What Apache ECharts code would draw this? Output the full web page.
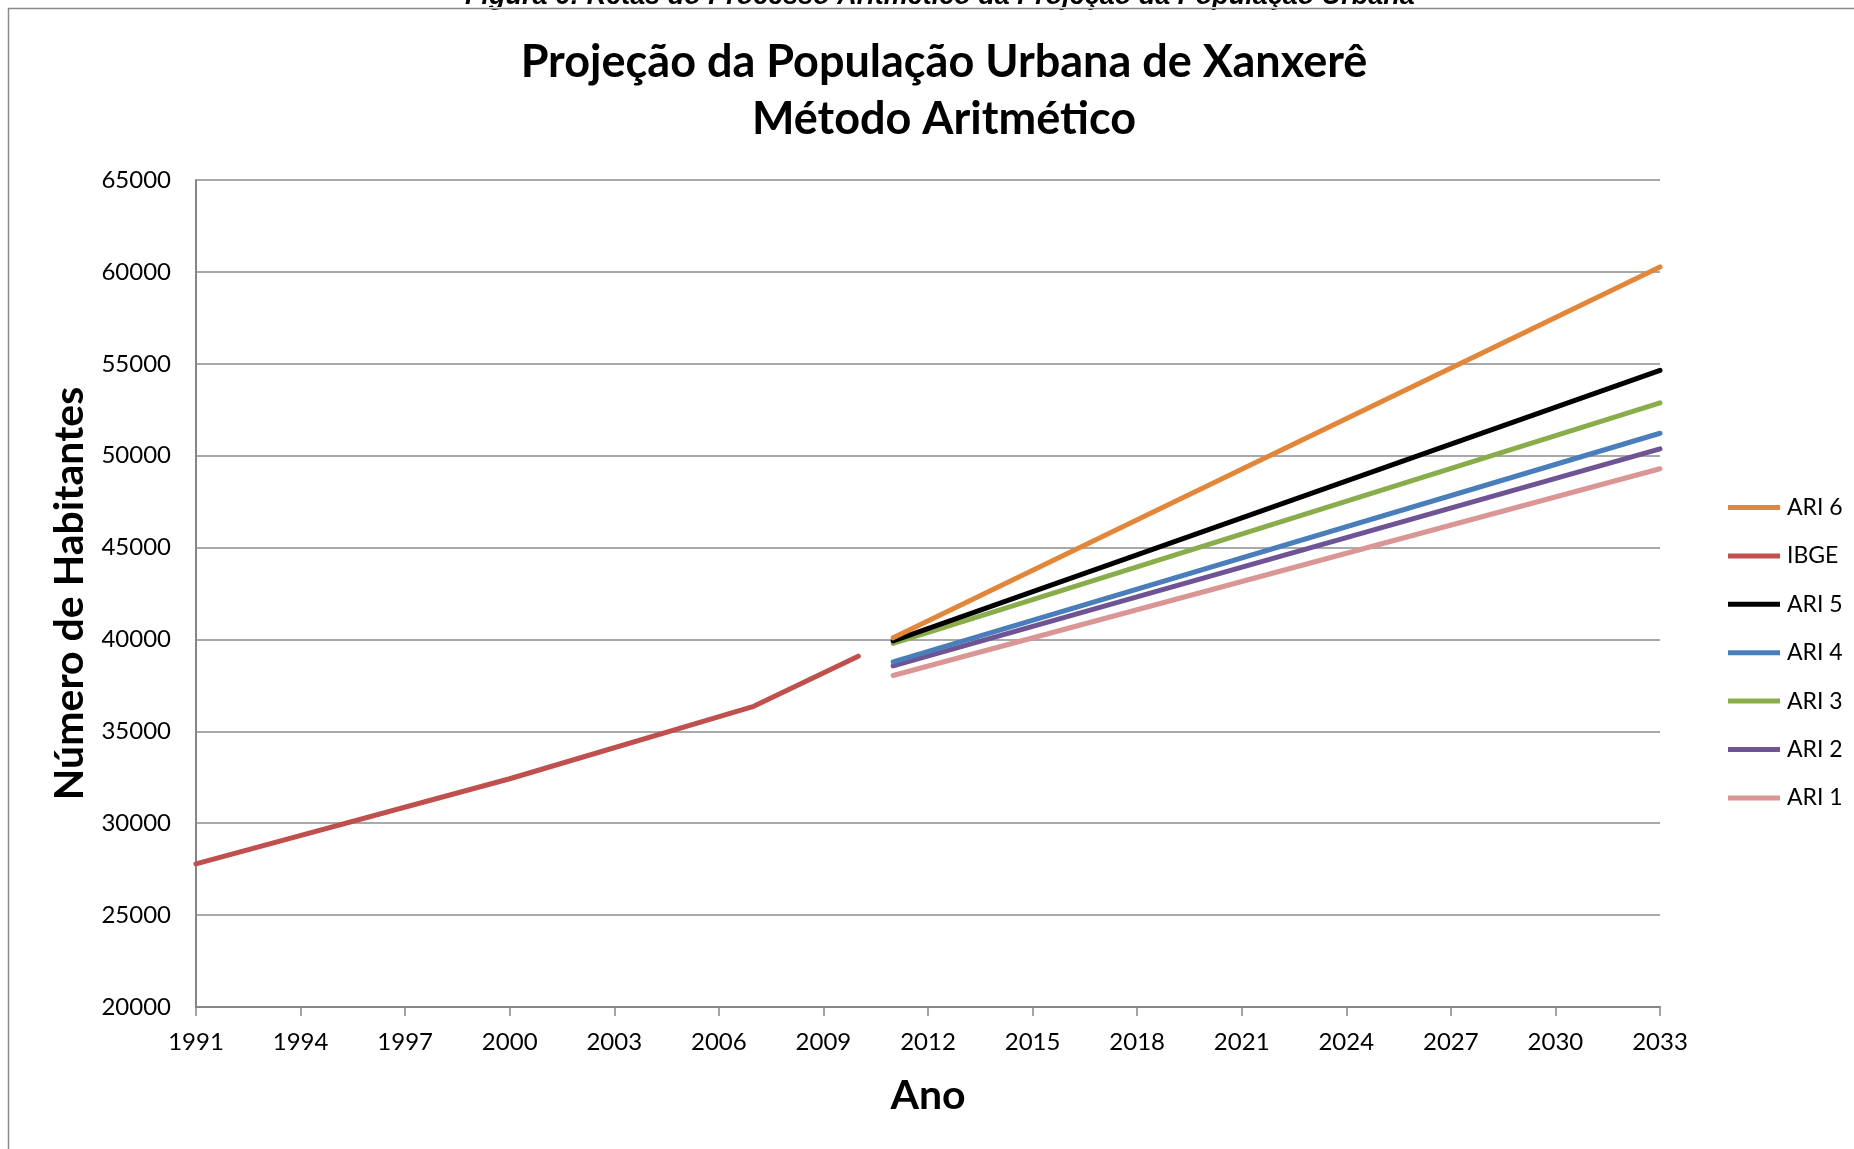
<!DOCTYPE html>
<html>
<head>
<meta charset="utf-8">
<script src="https://cdn.jsdelivr.net/npm/echarts@6/dist/echarts.min.js"></script>
<style>html,body{margin:0;padding:0;background:#fff;}#c{width:1854px;height:1149px;}</style>
</head>
<body>
<div id="c"></div>
<script>
const years = ['1991','1992','1993','1994','1995','1996','1997','1998','1999','2000','2001','2002','2003','2004','2005','2006','2007','2008','2009','2010','2011','2012','2013','2014','2015','2016','2017','2018','2019','2020','2021','2022','2023','2024','2025','2026','2027','2028','2029','2030','2031','2032','2033'];
const yTicks = [20000, 65000, 5000];

const ibgeYears = ['1991','2000','2007','2010'];
const ibgeValues = [27790, 32420, 36360, 39090];

const projYears = ['2011','2033'];
const ari6 = [40090, 60270];
const ari5 = [39920, 54640];
const ari4 = [38780, 51220];
const ari3 = [39780, 52870];
const ari2 = [38560, 50370];
const ari1 = [38040, 49290];

const captionText = 'Figura 6: Retas do Processo Aritmético da Projeção da População Urbana';
const titleText = 'Projeção da População Urbana de Xanxerê\nMétodo Aritmético';

function pairs(xs, vs){ return xs.map((x,i)=>[x, vs[i]]); }

function mk(name, color, xs, vs, z){
  return {
    name: name, type: 'line', data: pairs(xs, vs), symbol: 'none', showSymbol: false,
    connectNulls: true, z: z,
    lineStyle: {color: color, width: 5, cap: 'round', join: 'round'},
    itemStyle: {color: color}
  };
}

const chart = echarts.init(document.getElementById('c'), null, {renderer: 'canvas'});
const FONT = 'Lato';
chart.setOption({
  animation: false,
  backgroundColor: '#ffffff',
  textStyle: {fontFamily: FONT},
  title: {
    text: titleText, left: 939, top: 29, textAlign: 'center',
    textStyle: {fontFamily: FONT, fontWeight: 'bold', fontSize: 45, lineHeight: 57, color: '#000'}
  },
  graphic: [
    {type: 'text', silent: true, x: 940, y: 10, z: 1,
     style: {text: captionText, fill: '#000', textAlign: 'center', textVerticalAlign: 'bottom',
             font: 'italic bold 27px "Liberation Sans"'}},
    {type: 'rect', silent: true, z: 3, shape: {x: 0, y: 7, width: 2000, height: 2},
     style: {fill: '#ffffff'}},
    {type: 'rect', silent: true, z: 4, shape: {x: 8.5, y: 8.5, width: 2000, height: 1300},
     style: {fill: 'none', stroke: '#8a8a8a', lineWidth: 1.5}}
  ],
  grid: {left: 196, right: 194, top: 180, bottom: 142, containLabel: false},
  legend: {
    orient: 'vertical', left: 1723, top: 491, icon: 'rect', itemWidth: 52, itemHeight: 5,
    itemGap: 25.4,
    textStyle: {fontFamily: FONT, fontSize: 23, color: '#000', padding: [0,0,0,2]},
    data: ['ARI 6','IBGE','ARI 5','ARI 4','ARI 3','ARI 2','ARI 1']
  },
  xAxis: {
    type: 'category', data: years, boundaryGap: false,
    name: 'Ano', nameLocation: 'middle', nameGap: 68,
    nameTextStyle: {fontFamily: FONT, fontWeight: 'bold', fontSize: 41, color: '#000'},
    axisLine: {lineStyle: {color: '#868686', width: 2}},
    axisTick: {show: true, interval: 2, length: 9, lineStyle: {color: '#868686', width: 1.5}},
    axisLabel: {interval: 2, margin: 23, fontFamily: FONT, fontSize: 24, color: '#000'},
    splitLine: {show: false}
  },
  yAxis: {
    type: 'value', min: yTicks[0], max: yTicks[1], interval: yTicks[2],
    name: 'Número de Habitantes', nameLocation: 'middle', nameGap: 106,
    nameTextStyle: {fontFamily: FONT, fontWeight: 'bold', fontSize: 41, color: '#000'},
    axisLine: {show: true, lineStyle: {color: '#868686', width: 2}},
    axisTick: {show: false},
    axisLabel: {margin: 25, fontFamily: FONT, fontSize: 24, color: '#000', formatter: v => String(v)},
    splitLine: {show: true, lineStyle: {color: '#8c8c8c', width: 1.5}}
  },
  series: [
    mk('ARI 6', '#E2863A', projYears, ari6, 7),
    mk('IBGE', '#C0504D', ibgeYears, ibgeValues, 6),
    mk('ARI 5', '#000000', projYears, ari5, 6),
    mk('ARI 4', '#4A7EBB', projYears, ari4, 4),
    mk('ARI 3', '#8AAD4B', projYears, ari3, 5),
    mk('ARI 2', '#6E5494', projYears, ari2, 3),
    mk('ARI 1', '#DA9694', projYears, ari1, 2)
  ]
});
</script>
</body>
</html>
